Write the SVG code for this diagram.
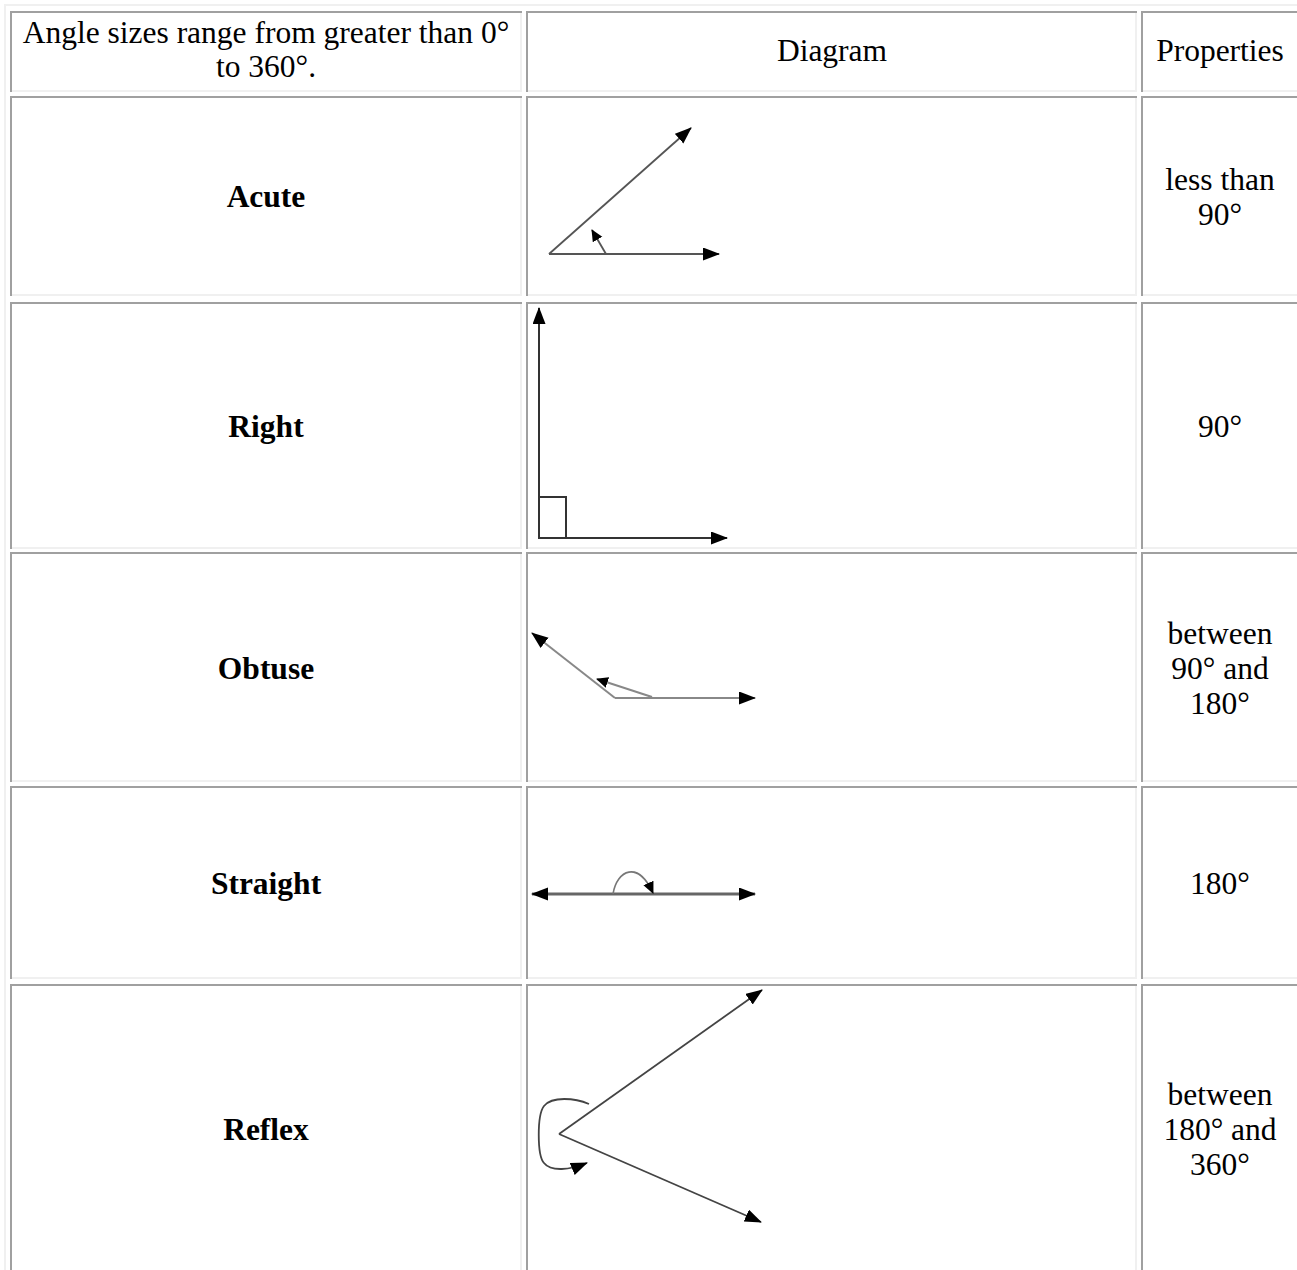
<svg xmlns="http://www.w3.org/2000/svg" width="1297" height="1270" viewBox="0 0 1297 1270">
<defs>
<style>
.dk{fill:#a0a0a0}
.lt{fill:#f0f0f0}
.t{font-family:"Liberation Serif","Times New Roman",serif;font-size:31.5px;fill:#000;text-anchor:middle}
.b{font-weight:bold}
.ln{fill:none;stroke-linecap:butt}
</style>
<marker id="ah" markerUnits="userSpaceOnUse" markerWidth="18" markerHeight="14" refX="16" refY="6.5" orient="auto-start-reverse"><path d="M0,0 L17,6.5 L0,13 z" fill="#000"/></marker>
<marker id="as" markerUnits="userSpaceOnUse" markerWidth="13" markerHeight="12" refX="11" refY="5.5" orient="auto"><path d="M0,0 L12,5.5 L0,11 z" fill="#000"/></marker>
</defs>
<rect width="1297" height="1270" fill="#fff"/>
<!-- table outer border -->
<g id="table-frame">
<rect class="lt" x="4" y="4" width="1293" height="2"/>
<rect class="lt" x="4" y="4" width="2" height="1266"/>
</g>
<!-- header row -->
<g id="header">
<g id="cell-h1"><rect class="dk" x="10" y="11" width="512" height="2"/><rect class="dk" x="10" y="11" width="2" height="81"/><rect class="lt" x="12" y="90" width="510" height="2"/><rect class="lt" x="520" y="13" width="2" height="79"/>
<text class="t" x="266" y="43">Angle sizes range from greater than 0°</text><text class="t" x="266" y="77">to 360°.</text></g>
<g id="cell-h2"><rect class="dk" x="526" y="11" width="611" height="2"/><rect class="dk" x="526" y="11" width="2" height="81"/><rect class="lt" x="528" y="90" width="609" height="2"/><rect class="lt" x="1135" y="13" width="2" height="79"/>
<text class="t" x="832" y="61">Diagram</text></g>
<g id="cell-h3"><rect class="dk" x="1141" y="11" width="160" height="2"/><rect class="dk" x="1141" y="11" width="2" height="81"/><rect class="lt" x="1143" y="90" width="160" height="2"/>
<text class="t" x="1220" y="61">Properties</text></g>
</g>
<!-- Acute row -->
<g id="row-acute">
<rect class="dk" x="10" y="96" width="512" height="2"/><rect class="dk" x="10" y="96" width="2" height="200"/><rect class="lt" x="12" y="294" width="510" height="2"/><rect class="lt" x="520" y="98" width="2" height="198"/>
<rect class="dk" x="526" y="96" width="611" height="2"/><rect class="dk" x="526" y="96" width="2" height="200"/><rect class="lt" x="528" y="294" width="609" height="2"/><rect class="lt" x="1135" y="98" width="2" height="198"/>
<rect class="dk" x="1141" y="96" width="160" height="2"/><rect class="dk" x="1141" y="96" width="2" height="200"/><rect class="lt" x="1143" y="294" width="160" height="2"/>
<text class="t b" x="266" y="207">Acute</text>
<text class="t" x="1220" y="190">less than</text><text class="t" x="1220" y="225">90°</text>
</g>
<!-- Right row -->
<g id="row-right">
<rect class="dk" x="10" y="302" width="512" height="2"/><rect class="dk" x="10" y="302" width="2" height="247"/><rect class="lt" x="12" y="547" width="510" height="2"/><rect class="lt" x="520" y="304" width="2" height="245"/>
<rect class="dk" x="526" y="302" width="611" height="2"/><rect class="dk" x="526" y="302" width="2" height="247"/><rect class="lt" x="528" y="547" width="609" height="2"/><rect class="lt" x="1135" y="304" width="2" height="245"/>
<rect class="dk" x="1141" y="302" width="160" height="2"/><rect class="dk" x="1141" y="302" width="2" height="247"/><rect class="lt" x="1143" y="547" width="160" height="2"/>
<text class="t b" x="266" y="437">Right</text>
<text class="t" x="1220" y="437">90°</text>
</g>
<!-- Obtuse row -->
<g id="row-obtuse">
<rect class="dk" x="10" y="552" width="512" height="2"/><rect class="dk" x="10" y="552" width="2" height="230"/><rect class="lt" x="12" y="780" width="510" height="2"/><rect class="lt" x="520" y="554" width="2" height="228"/>
<rect class="dk" x="526" y="552" width="611" height="2"/><rect class="dk" x="526" y="552" width="2" height="230"/><rect class="lt" x="528" y="780" width="609" height="2"/><rect class="lt" x="1135" y="554" width="2" height="228"/>
<rect class="dk" x="1141" y="552" width="160" height="2"/><rect class="dk" x="1141" y="552" width="2" height="230"/><rect class="lt" x="1143" y="780" width="160" height="2"/>
<text class="t b" x="266" y="679">Obtuse</text>
<text class="t" x="1220" y="644">between</text><text class="t" x="1220" y="679">90° and</text><text class="t" x="1220" y="714">180°</text>
</g>
<!-- Straight row -->
<g id="row-straight">
<rect class="dk" x="10" y="786" width="512" height="2"/><rect class="dk" x="10" y="786" width="2" height="193"/><rect class="lt" x="12" y="977" width="510" height="2"/><rect class="lt" x="520" y="788" width="2" height="191"/>
<rect class="dk" x="526" y="786" width="611" height="2"/><rect class="dk" x="526" y="786" width="2" height="193"/><rect class="lt" x="528" y="977" width="609" height="2"/><rect class="lt" x="1135" y="788" width="2" height="191"/>
<rect class="dk" x="1141" y="786" width="160" height="2"/><rect class="dk" x="1141" y="786" width="2" height="193"/><rect class="lt" x="1143" y="977" width="160" height="2"/>
<text class="t b" x="266" y="894">Straight</text>
<text class="t" x="1220" y="894">180°</text>
</g>
<!-- Reflex row -->
<g id="row-reflex">
<rect class="dk" x="10" y="984" width="512" height="2"/><rect class="dk" x="10" y="984" width="2" height="300"/><rect class="lt" x="520" y="986" width="2" height="300"/>
<rect class="dk" x="526" y="984" width="611" height="2"/><rect class="dk" x="526" y="984" width="2" height="300"/><rect class="lt" x="1135" y="986" width="2" height="300"/>
<rect class="dk" x="1141" y="984" width="160" height="2"/><rect class="dk" x="1141" y="984" width="2" height="300"/>
<text class="t b" x="266" y="1140">Reflex</text>
<text class="t" x="1220" y="1105">between</text><text class="t" x="1220" y="1140">180° and</text><text class="t" x="1220" y="1175">360°</text>
</g>
<!-- angle diagrams (arrows) -->
<g id="connectors">
<g id="diagram-acute" stroke="#555" stroke-width="1.8" class="ln">
<line x1="549" y1="254" x2="719" y2="254" marker-end="url(#ah)"/>
<line x1="549" y1="254" x2="691" y2="128" marker-end="url(#ah)"/>
<line x1="606" y1="254" x2="592" y2="230" marker-end="url(#as)"/>
</g>
<g id="diagram-right" stroke="#333" stroke-width="2" class="ln">
<line x1="539" y1="538" x2="539" y2="308" marker-end="url(#ah)"/>
<line x1="539" y1="538" x2="727" y2="538" marker-end="url(#ah)"/>
<rect x="539" y="497" width="27" height="41"/>
</g>
<g id="diagram-obtuse" stroke="#888" stroke-width="2" class="ln">
<line x1="615" y1="698" x2="755" y2="698" marker-end="url(#ah)"/>
<line x1="615" y1="698" x2="532" y2="633" marker-end="url(#ah)"/>
<line x1="652" y1="697" x2="597" y2="679" marker-end="url(#as)"/>
</g>
<g id="diagram-straight" class="ln">
<line x1="532" y1="894" x2="755" y2="894" stroke="#666" stroke-width="3" marker-start="url(#ah)" marker-end="url(#ah)"/>
<path d="M613,894 C617,870 638,860 653,893" stroke="#777" stroke-width="1.6" marker-end="url(#as)"/>
</g>
<g id="diagram-reflex" stroke="#444" stroke-width="1.8" class="ln">
<line x1="559" y1="1134" x2="762" y2="990" marker-end="url(#ah)"/>
<line x1="559" y1="1134" x2="761" y2="1222" marker-end="url(#ah)"/>
<path d="M589,1104 C575,1098 552,1096 544,1106 C537,1115 537,1155 544,1163 C551,1172 570,1170 587,1163" marker-end="url(#ah)"/>
</g>
</g>
</svg>
